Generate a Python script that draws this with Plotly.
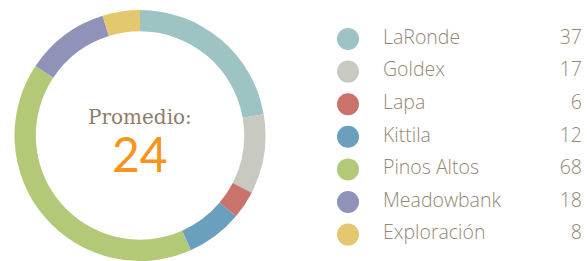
import plotly.graph_objects as go

categories = ["LaRonde", "Goldex", "Lapa", "Kittila", "Pinos Altos", "Meadowbank", "Exploración"]
values = [37, 17, 6, 12, 68, 18, 8]
colors = ["#9dc3c2", "#c8cac2", "#c9736b", "#6a9fbd", "#b4c978", "#9092b9", "#e4c86f"]
center_label = "Promedio:"
average = round(sum(values) / len(values))

W, H = 587, 261
text_color = "#958676"
legend_font = dict(family="Open Sans", size=19.5, color=text_color, weight=300)

fig = go.Figure()
fig.add_trace(go.Pie(
    labels=categories, values=values, sort=False, direction="clockwise", rotation=0,
    hole=0.83, marker=dict(colors=colors, line=dict(width=0)),
    textinfo="none", hoverinfo="label+value", showlegend=False,
    domain=dict(x=[14 / W, 266 / W], y=[0 / H, 251 / H]),
))

# legend markers
fig.add_trace(go.Scatter(
    x=[348] * len(categories), y=categories, mode="markers",
    marker=dict(size=22, color=colors, line=dict(width=0)),
    showlegend=False, hoverinfo="skip", cliponaxis=False,
))
fig.add_trace(go.Scatter(
    x=[383] * len(categories), y=categories, mode="text", text=categories,
    textposition="middle right", textfont=legend_font,
    showlegend=False, hoverinfo="skip", cliponaxis=False,
))
fig.add_trace(go.Scatter(
    x=[582] * len(categories), y=categories, mode="text", text=[str(v) for v in values],
    textposition="middle left", textfont=legend_font,
    showlegend=False, hoverinfo="skip", cliponaxis=False,
))

fig.add_annotation(x=140 / W, y=1 - 117 / H, xref="paper", yref="paper", text=center_label,
                   showarrow=False, font=dict(family="DejaVu Serif", size=20, color="#8c7d6d"),
                   xanchor="center", yanchor="middle")
fig.add_annotation(x=140 / W, y=1 - 153 / H, xref="paper", yref="paper", text=str(average),
                   showarrow=False, font=dict(family="Lato", size=48, color="#f7941d", weight=400),
                   xanchor="center", yanchor="middle")

fig.update_layout(
    width=W, height=H, margin=dict(l=0, r=0, t=0, b=0),
    paper_bgcolor="white", plot_bgcolor="rgba(0,0,0,0)",
    xaxis=dict(range=[0, W], domain=[0, 1], visible=False, fixedrange=True),
    yaxis=dict(type="category", categoryarray=categories, categoryorder="array",
               range=[len(categories) - 0.5, -0.5], domain=[(H - 250.9) / H, (H - 22.7) / H],
               visible=False, fixedrange=True),
)

fig.write_html("out.html", config={"displayModeBar": False},
               post_script="document.body.style.margin='0';document.body.style.overflow='hidden';")
